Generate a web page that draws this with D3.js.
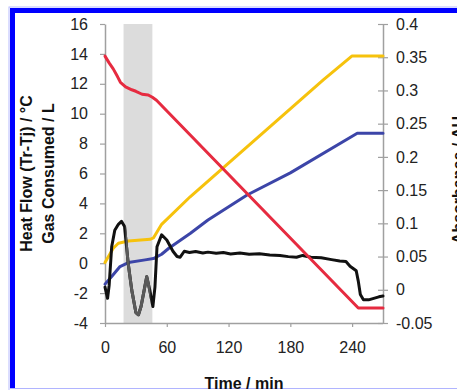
<!DOCTYPE html>
<html><head><meta charset="utf-8">
<script src="https://cdn.jsdelivr.net/npm/d3@7"></script>
<style>
html,body{margin:0;padding:0;background:#fff;}
svg{display:block;}
text{font-family:"Liberation Sans",Arial,sans-serif;}
</style></head>
<body>
<svg id="chart" width="457" height="390"></svg>
<script>
// ---- data ----
const xTicks = [0, 60, 120, 180, 240];
const leftTicks = [-4, -2, 0, 2, 4, 6, 8, 10, 12, 14, 16];
const rightTicks = [-0.05, 0, 0.05, 0.1, 0.15, 0.2, 0.25, 0.3, 0.35, 0.4];
const shadeRange = [18, 46];            // minutes
const grayRange = [20, 44];             // part of heat flow drawn grey
// red (left axis)
const redSeries = [[0,13.85],[4,13.4],[8,13.0],[12,12.5],[15,12.1],[20,11.8],[26,11.6],[30,11.5],[36,11.3],[42,11.25],[46,11.1],[50,10.9],[246,-3],[270,-3]];
// heat flow, black (left axis)
const heatSeries = [[0,-1.6],[2.5,-2.35],[4,-1.5],[6.5,1.1],[9.5,2.2],[13,2.6],[16,2.8],[19,2.45],[22.5,0],[26,-1.8],[30,-3.3],[32.5,-3.45],[35,-2.9],[37.5,-2.0],[40.5,-0.9],[43.5,-1.8],[46.5,-2.9],[48.5,-1.6],[50.5,1.1],[55,1.9],[60,1.55],[66,0.8],[70,0.45],[73,0.4],[77,0.8],[82,0.72],[88,0.78],[95,0.68],[100,0.74],[108,0.66],[115,0.72],[122,0.62],[131,0.68],[140,0.6],[150,0.63],[160,0.55],[170,0.52],[178,0.44],[186,0.4],[192,0.52],[200,0.4],[210,0.36],[220,0.24],[228,0.15],[234,0.12],[238,-0.2],[244,-0.5],[246,-1.2],[248,-2.1],[251,-2.45],[256,-2.45],[261,-2.35],[266,-2.25],[270,-2.2]];
// yellow absorbance (right axis)
const yellowSeries = [[0,0.041],[8,0.0625],[13,0.07],[22.7,0.0733],[43.8,0.076],[47,0.078],[55,0.0985],[82.7,0.140],[212,0.316],[240,0.352],[270,0.352]];
// blue absorbance (right axis)
const blueSeries = [[0,0.0085],[6.5,0.02],[14.6,0.035],[22.7,0.041],[39,0.045],[47,0.047],[55,0.0535],[62,0.0625],[83,0.085],[100,0.105],[138,0.1426],[180,0.176],[245,0.2355],[270,0.2355]];

// ---- layout ----
const svg = d3.select("#chart");
const L = 105, R = 383, T = 24, B = 323;
const x = d3.scaleLinear().domain([0, 270]).range([L, R]);
const yL = d3.scaleLinear().domain([-4, 16]).range([B, T]);
const yR = d3.scaleLinear().domain([-0.05, 0.4]).range([B, T]);
const hy = f => d => f(d).replace("\u2212", "-");

// frame
svg.append("rect").attr("x",9).attr("y",7).attr("width",460).attr("height",400).attr("fill","none").attr("stroke","#b8bcff").attr("stroke-width",1);
svg.append("rect").attr("x",10).attr("y",8).attr("width",5).attr("height",380).attr("fill","#0000ff");
svg.append("rect").attr("x",10).attr("y",8).attr("width",447).attr("height",5).attr("fill","#0000ff");
svg.append("line").attr("x1",10).attr("x2",457).attr("y1",388.5).attr("y2",388.5).attr("stroke","#b0b4ff").attr("stroke-width",1);

// shaded region
svg.append("rect")
  .attr("x", x(shadeRange[0])).attr("y", T)
  .attr("width", x(shadeRange[1]) - x(shadeRange[0])).attr("height", B - T)
  .attr("fill", "#dcdcdc");

// axes
const axisColor = "#a0a0a0";
const gx = svg.append("g").attr("transform", `translate(0,${B})`)
  .call(d3.axisBottom(x).tickValues(xTicks).tickSize(4).tickPadding(15).tickSizeOuter(0));
const gl = svg.append("g").attr("transform", `translate(${L},0)`)
  .call(d3.axisLeft(yL).tickValues(leftTicks).tickFormat(hy(d3.format("d"))).tickSize(5).tickPadding(12).tickSizeOuter(0));
const gr = svg.append("g").attr("transform", `translate(${R},0)`)
  .call(d3.axisRight(yR).tickValues(rightTicks).tickFormat(hy(d3.format("~g"))).tickSize(5).tickPadding(8).tickSizeOuter(0));
gr.selectAll(".tick line").attr("x1", -5);
[gx, gl, gr].forEach(g => {
  g.select(".domain").attr("stroke", axisColor).attr("stroke-width", 1.5);
  g.selectAll(".tick line").attr("stroke", axisColor).attr("stroke-width", 1.2);
  g.selectAll(".tick text").attr("fill", "#222").style("font-size", "16px").style("font-family", '"Liberation Sans",Arial,sans-serif');
});
gx.select(".domain").attr("d", `M${L},0.5H${R}`);

// lines
const lineL = d3.line().x(d => x(d[0])).y(d => yL(d[1]));
const lineR = d3.line().x(d => x(d[0])).y(d => yR(d[1]));
const style = (p, c) => p.attr("fill","none").attr("stroke",c).attr("stroke-width",3).attr("stroke-linejoin","round").attr("stroke-linecap","round");

style(svg.append("path").attr("d", lineR(yellowSeries)), "#f6c20c");
style(svg.append("path").attr("d", lineR(blueSeries)), "#3c45a8");
style(svg.append("path").attr("d", lineL(heatSeries)), "#111111");

svg.append("clipPath").attr("id","grayclip").append("rect")
  .attr("x", x(grayRange[0])).attr("y", T).attr("width", x(grayRange[1]) - x(grayRange[0])).attr("height", B - T);
style(svg.append("path").attr("d", lineL(heatSeries)).attr("clip-path","url(#grayclip)"), "#5a5a5a");

style(svg.append("path").attr("d", lineL(redSeries)), "#e62b40");

// titles
const tstyle = s => s.attr("font-weight","bold").style("font-size","16px").attr("fill","#111").attr("text-anchor","middle");
tstyle(svg.append("text").attr("transform", `translate(32,${(T+B)/2}) rotate(-90)`).text("Heat Flow (Tr-Tj) / °C"));
tstyle(svg.append("text").attr("transform", `translate(54,${(T+B)/2}) rotate(-90)`).text("Gas Consumed / L"));
tstyle(svg.append("text").attr("transform", `translate(464,180) rotate(-90)`).text("Absorbance / AU"));
tstyle(svg.append("text").attr("x", (L+R)/2).attr("y", 389).text("Time / min"));
</script>
</body></html>
